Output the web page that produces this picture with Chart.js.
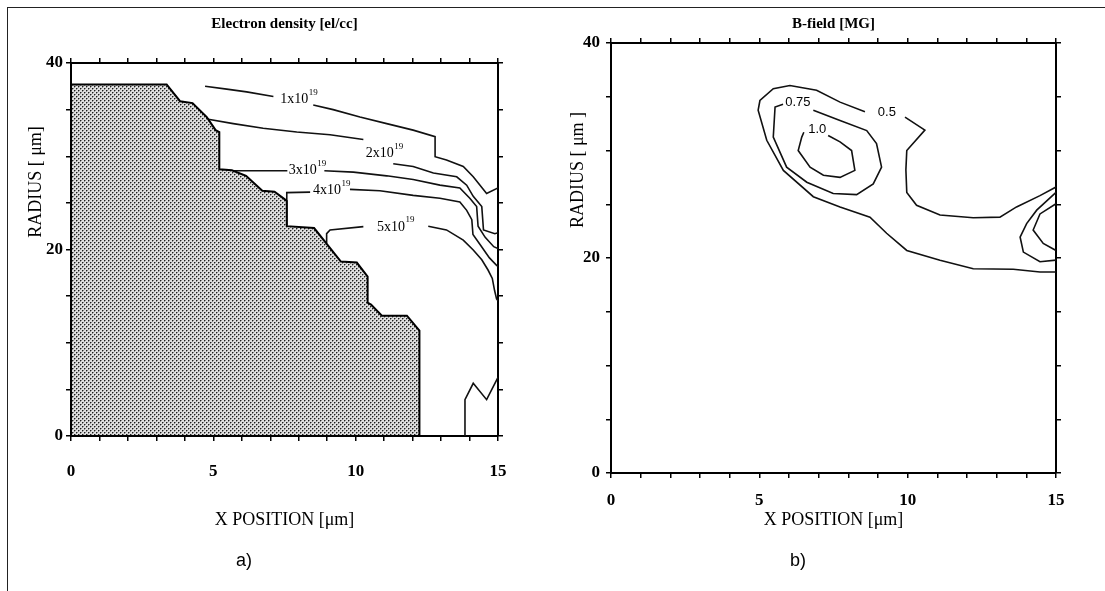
<!DOCTYPE html>
<html>
<head>
<meta charset="utf-8">
<script src="https://cdn.jsdelivr.net/npm/chart.js@4.4.1/dist/chart.umd.min.js"></script>
<style>
  body { margin: 0; background: #fff; }
  #fig { position: relative; width: 1105px; height: 591px; overflow: hidden; }
  #frame { position: absolute; left: 7px; top: 7px; right: -5px; bottom: -5px;
           border-left: 1.5px solid #222; border-top: 1.5px solid #222; }
  canvas { position: absolute; top: 0; }
  #cA { left: 0; }
  #cB { left: 540px; }
  .cap { position: absolute; top: 550px; font: 18px "Liberation Sans", Arial, sans-serif; color: #000; }
</style>
</head>
<body>
<div id="fig">
  <div id="frame"></div>
  <canvas id="cA" width="540" height="591"></canvas>
  <canvas id="cB" width="565" height="591"></canvas>
  <div class="cap" style="left:236px">a)</div>
  <div class="cap" style="left:790px">b)</div>
</div>
<script>
// labelled ticks (minor ticks every 1 on x, every 5 on y)
const xTickLabels = [0, 5, 10, 15];
const yTickLabels = [0, 20, 40];

// ---- a) electron density: shaded target and density contours, [x, r] in µm ----
const targetEdge = [[0, 37.7], [3.36, 37.7], [3.83, 35.9], [4.27, 35.7], [4.77, 34.2], [5.08, 32.8],
  [5.21, 32.6], [5.21, 28.6], [5.65, 28.5], [6.15, 27.9], [6.72, 26.3], [7.15, 26.2], [7.5, 25.4],
  [7.58, 25.2], [7.58, 22.5], [8.54, 22.3], [9.48, 18.7], [10.04, 18.6], [10.42, 17.1], [10.42, 14.3],
  [10.54, 14.1], [10.92, 12.9], [11.8, 12.9], [12.24, 11.3], [12.24, 0], [0, 0], [0, 37.7]];

const ne1a = [[4.71, 37.5], [5.47, 37.2], [6.17, 36.9], [7.11, 36.4]];
const ne1b = [[8.51, 35.5], [9.21, 35.0], [10.15, 34.2], [11.09, 33.5], [12.02, 32.8], [12.79, 32.1],
  [12.79, 29.95], [13.19, 29.6], [13.78, 28.9], [14.13, 27.8], [14.6, 26.0], [15, 26.6]];
const ne2a = [[4.77, 34.0], [5.7, 33.5], [6.75, 33.0], [7.93, 32.6], [9.1, 32.3], [10.27, 31.8]];
const ne2b = [[11.32, 29.2], [12.02, 28.9], [12.73, 28.2], [13.55, 27.8], [13.9, 26.9], [14.13, 25.7],
  [14.43, 24.6], [14.49, 22.1], [14.89, 21.7], [15, 21.8]];
const ne3a = [[5.7, 28.45], [7.6, 28.45]];
const ne3b = [[8.9, 28.45], [9.92, 28.3], [11.09, 27.9], [12.02, 27.5], [12.96, 26.9], [13.66, 26.6],
  [14.01, 25.5], [14.25, 24.6], [14.3, 22.5], [14.55, 21.3], [14.85, 20.3], [15, 20.1]];
const ne4a = [[7.58, 22.6], [7.58, 26.1], [8.4, 26.15]];
const ne4b = [[9.8, 26.45], [10.85, 26.3], [12.02, 25.8], [12.96, 25.5], [13.66, 25.1], [13.9, 24.2],
  [14.08, 23.2], [14.12, 21.6], [14.4, 20.4], [14.7, 19.1], [14.95, 18.3], [15, 18.2]];
const ne5a = [[8.98, 20.7], [8.98, 21.7], [9.1, 22.1], [10.27, 22.45]];
const ne5b = [[12.55, 22.5], [13.19, 22.1], [13.78, 21.0], [14.13, 19.95], [14.43, 18.9], [14.65, 17.8],
  [14.8, 16.9], [14.88, 15.6], [14.95, 14.7], [15, 14.5]];
const neLow = [[13.84, 0], [13.84, 3.9], [14.13, 5.65], [14.6, 3.9], [14.95, 6.0], [15, 6.3]];

const neLabels = ['1x10', '2x10', '3x10', '4x10', '5x10'];
const neLabelX = [8.0, 11.0, 8.3, 9.15, 11.4];
const neLabelY = [36.1, 30.3, 28.5, 26.3, 22.4];

// ---- b) B-field contours [MG] ----
const b05a = [[15, 26.6], [14.46, 25.8], [13.67, 24.75], [13.11, 23.8], [12.21, 23.75], [11.09, 24.0],
  [10.3, 24.9], [9.97, 26.1], [9.94, 28.2], [9.97, 30.0], [10.58, 31.9], [9.91, 33.1]];
const b05b = [[8.56, 33.6], [7.72, 34.5], [6.93, 35.6], [6.03, 36.05], [5.47, 35.75], [5.02, 34.65],
  [4.96, 33.75], [5.25, 30.95], [5.81, 28.15], [6.82, 25.7], [7.72, 24.75], [8.73, 23.8], [9.29, 22.3],
  [9.97, 20.7], [11.09, 19.8], [12.21, 19.0], [13.56, 18.95], [14.46, 18.7], [15, 18.7]];
const b075 = [[5.8, 34.3], [5.53, 34.05], [5.47, 31.25], [5.92, 28.45], [6.6, 27.05], [7.49, 26.0],
  [8.28, 25.9], [8.84, 26.9], [9.12, 28.45], [8.95, 30.65], [8.62, 31.85], [7.72, 32.8], [6.82, 33.75]];
const b10 = [[6.5, 31.7], [6.43, 31.25], [6.31, 30.0], [6.71, 28.45], [7.16, 27.7], [7.72, 27.5],
  [8.22, 28.15], [8.11, 30.0], [7.72, 30.8], [7.32, 31.4]];
const bEdgeOuter = [[15, 26.1], [14.35, 24.45], [14.01, 23.2], [13.79, 21.95], [13.9, 20.55],
  [14.46, 19.65], [15, 19.8]];
const bEdgeInner = [[15, 25.05], [14.46, 24.1], [14.23, 22.6], [14.57, 21.35], [15, 20.7]];

const bLabels = ['0.75', '1.0', '0.5'];
const bLabelX = [6.3, 6.95, 9.3];
const bLabelY = [34.5, 32.0, 33.55];

// -------------------------------------------------------------
const serif = '"Liberation Serif", "Times New Roman", serif';
const sans = '"Liberation Sans", Arial, sans-serif';

// dotted grey fill like the printed screen tone
function stipple() {
  const c = document.createElement('canvas');
  c.width = 4; c.height = 4;
  const g = c.getContext('2d');
  g.fillStyle = '#dedede';
  g.fillRect(0, 0, 4, 4);
  g.fillStyle = '#8a8a8a';
  g.fillRect(1, 0, 1, 1);
  g.fillRect(3, 2, 1, 1);
  g.fillRect(0, 1, 1, 1);
  g.fillRect(2, 3, 1, 1);
  g.fillStyle = '#1e1e1e';
  g.fillRect(0, 0, 1, 1);
  g.fillRect(2, 2, 1, 1);
  return g.createPattern(c, 'repeat');
}

function pts(arr) {
  return arr.map(p => ({ x: p[0], y: p[1] }));
}

function contour(arr) {
  return { data: pts(arr), borderColor: '#111', borderWidth: 1.6, pointRadius: 0, showLine: true, fill: false };
}

// contour labels and the rotated side title
const textLayer = {
  id: 'textLayer',
  afterDatasetsDraw(chart, args, o) {
    const { ctx } = chart;
    const xs = chart.scales.x, ys = chart.scales.y;
    ctx.save();
    ctx.fillStyle = '#000';
    ctx.textBaseline = 'middle';
    ctx.textAlign = 'left';
    o.text.forEach((t, i) => {
      const px = xs.getPixelForValue(o.x[i]);
      const py = ys.getPixelForValue(o.y[i]);
      ctx.font = o.font;
      const w = ctx.measureText(t).width;
      let sw = 0;
      if (o.sup) {
        ctx.font = o.supFont;
        sw = ctx.measureText(o.sup).width;
      }
      const left = px - (w + sw) / 2;
      ctx.font = o.font;
      ctx.fillText(t, left, py);
      if (o.sup) {
        ctx.font = o.supFont;
        ctx.fillText(o.sup, left + w + 0.5, py - 7);
      }
    });
    ctx.translate(o.side.x, o.side.y);
    ctx.rotate(-Math.PI / 2);
    ctx.textAlign = 'center';
    ctx.font = '18px ' + serif;
    ctx.fillText(o.side.text, 0, 0);
    ctx.restore();
  }
};

function scales(o) {
  const tickFont = { family: serif, size: 17, weight: 'bold' };
  const titleFont = { family: serif, size: 18 };
  const grid = { drawOnChartArea: false, drawTicks: true, tickLength: 5, color: '#000', lineWidth: 1.5 };
  const border = { display: true, color: '#000', width: 2 };
  return {
    x: {
      type: 'linear', position: 'bottom', min: 0, max: 15, grid, border,
      ticks: { stepSize: 1, autoSkip: false, maxRotation: 0, padding: o.xPad, color: '#000', font: tickFont,
               callback: v => xTickLabels.includes(v) ? String(v) : '' },
      title: { display: true, text: 'X POSITION [μm]', color: '#000', font: titleFont, padding: { top: 0, bottom: 60 } },
      afterFit: s => { s.height = o.bottom; }
    },
    xTop: {
      type: 'linear', position: 'top', min: 0, max: 15, grid, border,
      ticks: { stepSize: 1, display: false },
      title: { display: true, text: o.title, color: '#000', font: { family: serif, size: 15, weight: 'bold' },
               padding: { top: 15, bottom: 0 } },
      afterFit: s => { s.height = o.top; }
    },
    y: {
      type: 'linear', position: 'left', min: 0, max: 40, grid, border,
      ticks: { stepSize: 5, autoSkip: false, padding: o.yPad, color: '#000', font: tickFont,
               callback: v => yTickLabels.includes(v) ? String(v) : '' },
      afterFit: s => { s.width = o.left; }
    },
    yRight: {
      type: 'linear', position: 'right', min: 0, max: 40, grid, border,
      ticks: { stepSize: 5, display: false },
      afterFit: s => { s.width = o.right; }
    }
  };
}

const base = {
  responsive: false,
  maintainAspectRatio: false,
  animation: false,
  layout: { padding: 0 }
};

new Chart(document.getElementById('cA'), {
  type: 'scatter',
  data: {
    datasets: [
      { data: pts(targetEdge), borderColor: '#000', borderWidth: 2, pointRadius: 0, showLine: true,
        fill: 'shape', backgroundColor: stipple() },
      contour(ne1a), contour(ne1b), contour(ne2a), contour(ne2b), contour(ne3a), contour(ne3b),
      contour(ne4a), contour(ne4b), contour(ne5a), contour(ne5b), contour(neLow)
    ]
  },
  options: Object.assign({}, base, {
    scales: scales({ left: 71, right: 42, top: 63, bottom: 155, xPad: 20, yPad: 3,
                     title: 'Electron density [el/cc]' }),
    plugins: {
      legend: { display: false },
      tooltip: { enabled: false },
      textLayer: {
        text: neLabels, x: neLabelX, y: neLabelY, sup: '19',
        font: '14px ' + serif, supFont: '9px ' + serif,
        side: { text: 'RADIUS [ μm]', x: 36, y: 182 }
      }
    }
  }),
  plugins: [textLayer]
});

new Chart(document.getElementById('cB'), {
  type: 'scatter',
  data: {
    datasets: [
      contour(b05a), contour(b05b), contour(b075), contour(b10), contour(bEdgeOuter), contour(bEdgeInner)
    ]
  },
  options: Object.assign({}, base, {
    scales: scales({ left: 71, right: 49, top: 43, bottom: 118, xPad: 12, yPad: 6,
                     title: 'B-field [MG]' }),
    plugins: {
      legend: { display: false },
      tooltip: { enabled: false },
      textLayer: {
        text: bLabels, x: bLabelX, y: bLabelY, sup: '',
        font: '13px ' + sans, supFont: '9px ' + sans,
        side: { text: 'RADIUS [ μm ]', x: 38, y: 170 }
      }
    }
  }),
  plugins: [textLayer]
});
</script>
</body>
</html>
